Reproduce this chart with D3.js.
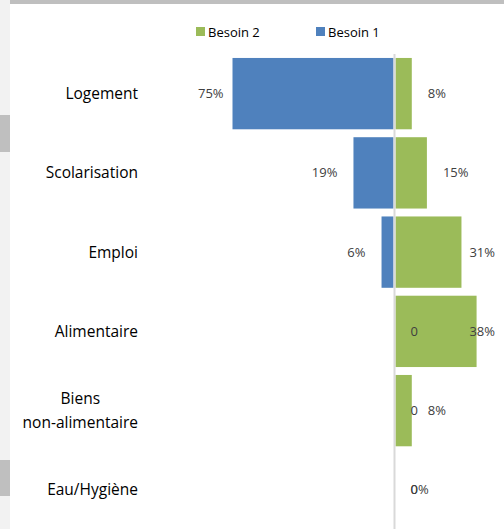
<!DOCTYPE html>
<html>
<head>
<meta charset="utf-8">
<script src="https://cdn.jsdelivr.net/npm/d3@7"></script>
<style>
  body { margin: 0; background: #fff; }
  svg { display: block; font-family: "Open Sans", sans-serif; }
</style>
</head>
<body>
<svg id="chart"></svg>
<script>
// categories top to bottom
const categories = ['Logement', 'Scolarisation', 'Emploi', 'Alimentaire', 'Biens\nnon-alimentaire', 'Eau/Hygiène'];
// Besoin 1 drawn to the left, Besoin 2 to the right (percent)
const besoin1 = [75, 19, 6, 0, 0, 0];
const besoin2 = [8, 15, 31, 38, 8, 0];
const seriesNames = ['Besoin 2', 'Besoin 1'];
const colors = { b1: '#4f81bd', b2: '#9bbb59' };

class ButterflyChart {
    constructor(_config) {
        this.config = {
            parentElement: _config.parentElement,
            containerWidth: _config.containerWidth || 504,
            containerHeight: _config.containerHeight || 529
        };
        this.initVis();
    }

    initVis() {
        let vis = this;
        vis.svg = d3.select(vis.config.parentElement)
            .attr('width', vis.config.containerWidth)
            .attr('height', vis.config.containerHeight);

        // window frame bits (grey strips around the chart)
        vis.svg.append('rect').attr('x', 0).attr('y', 0).attr('width', 10).attr('height', 529).attr('fill', '#f2f2f2');
        vis.svg.append('rect').attr('x', 10).attr('y', 0).attr('width', 494).attr('height', 4).attr('fill', '#bfbfbf');
        vis.svg.append('rect').attr('x', 0).attr('y', 115).attr('width', 10).attr('height', 37).attr('fill', '#bfbfbf');
        vis.svg.append('rect').attr('x', 0).attr('y', 460).attr('width', 10).attr('height', 36).attr('fill', '#bfbfbf');

        vis.xScale = d3.scaleLinear()
            .domain([-80, 50])
            .range([394.5 - 80 * 2.16, 394.5 + 50 * 2.16]);

        vis.yScale = d3.scaleBand()
            .domain(categories)
            .range([54, 529.5])
            .paddingInner(0.1)
            .paddingOuter(0.05);

        vis.updateVis();
    }

    updateVis() {
        let vis = this;
        const x0 = vis.xScale(0);
        const bw = vis.yScale.bandwidth();

        // blue bars (left)
        vis.svg.selectAll('.bar-b1')
            .data(categories.map((c, i) => ({ c: c, v: besoin1[i] })))
            .enter()
            .append('rect')
            .attr('class', 'bar-b1')
            .attr('fill', colors.b1)
            .attr('x', d => vis.xScale(-d.v))
            .attr('y', d => vis.yScale(d.c))
            .attr('width', d => Math.max(0, x0 - vis.xScale(-d.v) - 1))
            .attr('height', bw);

        // green bars (right)
        vis.svg.selectAll('.bar-b2')
            .data(categories.map((c, i) => ({ c: c, v: besoin2[i] })))
            .enter()
            .append('rect')
            .attr('class', 'bar-b2')
            .attr('fill', colors.b2)
            .attr('x', x0 + 1)
            .attr('y', d => vis.yScale(d.c))
            .attr('width', d => d.v > 0 ? Math.max(0, vis.xScale(d.v) - x0 - 1) : 0)
            .attr('height', bw);

        // center axis
        vis.svg.append('line')
            .attr('x1', x0).attr('x2', x0)
            .attr('y1', 54).attr('y2', 529)
            .attr('stroke', '#d9d9d9')
            .attr('stroke-width', 2);

        // category labels: block right aligned, lines centered
        categories.forEach(c => {
            const lines = c.split('\n');
            const cy = vis.yScale(c) + bw / 2;
            const g = vis.svg.append('g');
            const texts = lines.map((l, j) => g.append('text')
                .attr('y', cy + (j - (lines.length - 1) / 2) * 24)
                .attr('dy', '0.35em')
                .attr('font-size', 15.5)
                .attr('fill', '#000')
                .attr('text-anchor', 'middle')
                .text(l));
            const w = d3.max(texts, t => t.node().getComputedTextLength());
            texts.forEach(t => t.attr('x', 138 - w / 2));
        });

        // data labels
        const labelStyle = t => t.attr('font-size', 13).attr('fill', '#404040').attr('dy', '0.35em');
        categories.forEach((c, i) => {
            const cy = vis.yScale(c) + bw / 2;
            // Besoin 1
            const v1 = besoin1[i];
            const t1 = vis.svg.append('text').attr('y', cy).call(labelStyle)
                .text(v1 === 0 ? '0' : v1 + '%');
            const w1 = t1.node().getComputedTextLength();
            if (v1 === 0) {
                t1.attr('x', x0 + 16);
            } else {
                const right = Math.max(vis.xScale(-v1) - 16, 198 + w1);
                t1.attr('x', right - w1);
            }
            // Besoin 2
            const v2 = besoin2[i];
            const t2 = vis.svg.append('text').attr('y', cy).call(labelStyle)
                .text(v2 + '%');
            const w2 = t2.node().getComputedTextLength();
            t2.attr('x', Math.min(vis.xScale(v2) + 16, 495 - w2));
        });

        // legend
        const legend = vis.svg.append('g');
        const legendX = [196, 316];
        seriesNames.forEach((s, i) => {
            legend.append('rect')
                .attr('x', legendX[i]).attr('y', 27)
                .attr('width', 9).attr('height', 9)
                .attr('fill', i === 0 ? colors.b2 : colors.b1);
            legend.append('text')
                .attr('x', legendX[i] + 12).attr('y', 32)
                .attr('dy', '0.35em')
                .attr('font-size', 13)
                .attr('fill', '#000')
                .text(s);
        });
    }
}

new ButterflyChart({ parentElement: '#chart' });
</script>
</body>
</html>
